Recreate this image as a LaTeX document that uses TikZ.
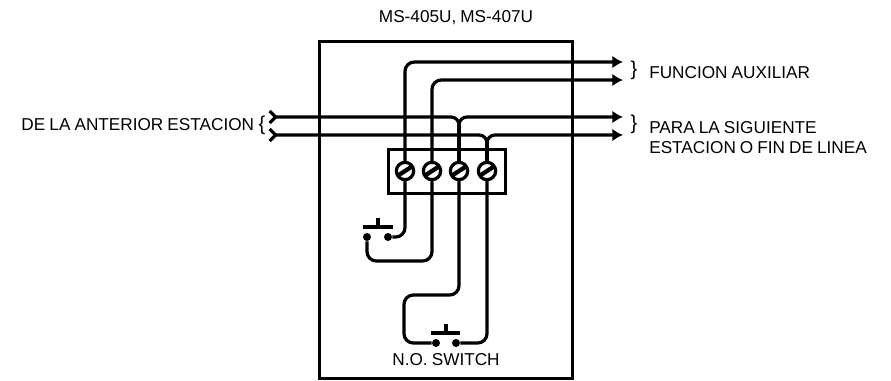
\documentclass[tikz,border=0pt]{standalone}
\usepackage{fontspec}
\setmainfont[WordSpace=0.85]{Liberation Sans}
\usetikzlibrary{positioning,arrows.meta}
\tikzset{%
  panel/.style={draw,line width=1.9pt},
  wire/.style={draw,line width=2.4pt,rounded corners=7pt},
  outwire/.style={wire,-{Latex[length=8pt,width=9.5pt]}},
  inwire/.style={wire,{Straight Barb[reversed,length=4.5pt,width=9pt]}-},
  screw/.style={circle,draw,fill=white,line width=2.4pt,minimum size=13pt,inner sep=0pt,
    path picture={\draw[line width=3.2pt] (path picture bounding box.center) ++(-10pt,-6.5pt) -- ++(20pt,13pt);}},
  dot/.style={circle,fill=black,minimum size=6pt,inner sep=0pt},
  lbl/.style={font=\fontsize{12.9pt}{15pt}\selectfont,inner sep=0pt,align=left},
  brc/.style={font=\fontsize{15pt}{15pt}\selectfont,inner sep=0pt}
}
\begin{document}
\begin{tikzpicture}[x=0.75pt,y=-0.75pt]
  \useasboundingbox (0,0) rectangle (891,380);

  \node[panel,minimum width=190pt,minimum height=253pt,anchor=north west] (case) at (318,40) {};
  \node[lbl] (title) at (456,17.5) {MS-405U, MS-407U};

  \node[panel,minimum width=88pt,minimum height=33pt,anchor=north west] (block) at (387,148) {};
  \foreach \n/\x in {t1/405,t2/432,t3/459,t4/487}
    \coordinate (\n c) at (\x,171);

  % free ends of the wires
  \coordinate (aux1) at (623,62);
  \coordinate (aux2) at (623,80);
  \coordinate (out1) at (623,117);
  \coordinate (out2) at (623,135);
  \coordinate (in1) at (268,117);
  \coordinate (in2) at (268,135);

  % hops over the terminals
  \coordinate (j1l) at (451,117);
  \coordinate (j1) at (459,125);
  \coordinate (j1r) at (467,117);
  \coordinate (j2l) at (479,135);
  \coordinate (j2) at (487,143);
  \coordinate (j2r) at (495,135);

  % upper switch
  \node[dot] (s1a) at (367,237) {};
  \node[dot] (s1b) at (388,237) {};
  \coordinate (s1l) at (363,227);
  \coordinate (s1r) at (393,227);
  \coordinate (s1m) at (378,227);
  \coordinate (s1t) at (378,218);
  \coordinate (c1) at (367,261);

  % lower switch
  \node[dot] (s2a) at (436,343) {};
  \node[dot] (s2b) at (456,343) {};
  \coordinate (s2l) at (431,333);
  \coordinate (s2r) at (460,333);
  \coordinate (s2m) at (446,333);
  \coordinate (s2t) at (446,324);
  \coordinate (c2) at (404,295);

  \draw[outwire] (t1c) |- (aux1);
  \draw[outwire] (t2c) |- (aux2);
  \draw[wire] (t1c) |- (s1b);
  \draw[wire] (t2c) |- (c1) -- (s1a);
  \draw[wire] (t3c) |- (c2) |- (s2a);
  \draw[wire] (t4c) |- (s2b);

  \draw[inwire,rounded corners=0pt] (in1) -- (j1l) to[out=0,in=90] (j1);
  \draw[inwire,rounded corners=0pt] (in2) -- (j2l) to[out=0,in=90] (j2);
  \draw[outwire,rounded corners=0pt] (j1) to[out=90,in=180] (j1r) -- (out1);
  \draw[outwire,rounded corners=0pt] (j2) to[out=90,in=180] (j2r) -- (out2);
  \draw[wire] (t3c) -- (j1);
  \draw[wire] (t4c) -- (j2);

  \foreach \n/\x in {t1/405,t2/432,t3/459,t4/487}
    \node[screw] (\n) at (\x,171) {};

  \draw[wire] (s1l) -- (s1r);
  \draw[wire] (s1m) -- (s1t);
  \draw[wire] (s2l) -- (s2r);
  \draw[wire] (s2m) -- (s2t);

  \node[brc] (b1) at (634,70) {\}};
  \node[brc] (b2) at (634,124) {\}};
  \node[brc] (b3) at (262,125) {\{};

  \node[lbl,anchor=west] (aux) at (649,73) {FUNCION AUXILIAR};
  \node[lbl,anchor=north west] (next) at (649,121.5) {PARA LA SIGUIENTE\\ESTACION O FIN DE LINEA};
  \node[lbl,left=3pt of b3] (prev) {DE LA ANTERIOR ESTACION};
  \node[lbl] (switch) at (446,359.5) {N.O. SWITCH};
\end{tikzpicture}
\end{document}
